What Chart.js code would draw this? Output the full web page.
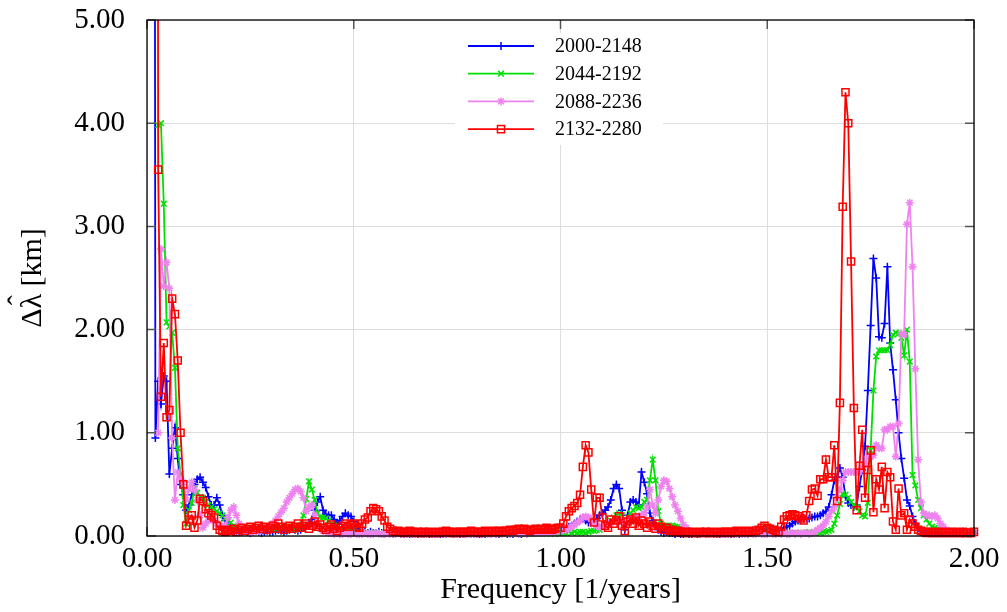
<!DOCTYPE html>
<html>
<head>
<meta charset="utf-8">
<script src="https://cdn.jsdelivr.net/npm/chart.js@4/dist/chart.umd.min.js"></script>
<style>
  html, body { margin: 0; padding: 0; background: #fff; }
  canvas { display: block; }
</style>
</head>
<body>
<canvas id="spec" width="1007" height="612"></canvas>
<script>
// one value per frequency bin, bin width 1/148 per year (first bins run off the top)
const seriesLabels = ['2000-2148', '2044-2192', '2088-2236', '2132-2280'];

const blue = [
  null, null, 30, 0.95, 1.5, 1.28, 1.55, 1.5, 0.6, 0.85,
  1.05, 0.75, 0.5, 0.4, 0.25, 0.3, 0.4, 0.5, 0.55, 0.57,
  0.52, 0.47, 0.38, 0.3, 0.3, 0.37, 0.3, 0.2, 0.15, 0.1,
  0.08, 0.06, 0.05, 0.04, 0.04, 0.05, 0.04, 0.03, 0.04, 0.05,
  0.04, 0.03, 0.04, 0.05, 0.04, 0.04, 0.05, 0.06, 0.05, 0.04,
  0.05, 0.06, 0.07, 0.06, 0.05, 0.06, 0.08, 0.1, 0.12, 0.16,
  0.25, 0.33, 0.38, 0.25, 0.21, 0.2, 0.2, 0.16, 0.12, 0.15,
  0.19, 0.22, 0.2, 0.19, 0.14, 0.09, 0.06, 0.05, 0.04, 0.03,
  0.04, 0.03, 0.03, 0.04, 0.03, 0.02, 0.03, 0.03, 0.02, 0.03,
  0.03, 0.02, 0.02, 0.03, 0.02, 0.02, 0.03, 0.02, 0.02, 0.02,
  0.03, 0.02, 0.02, 0.02, 0.03, 0.02, 0.02, 0.02, 0.03, 0.02,
  0.02, 0.03, 0.02, 0.02, 0.02, 0.03, 0.02, 0.02, 0.03, 0.02,
  0.02, 0.02, 0.03, 0.02, 0.03, 0.02, 0.02, 0.03, 0.03, 0.02,
  0.03, 0.02, 0.03, 0.03, 0.02, 0.03, 0.03, 0.04, 0.03, 0.03,
  0.04, 0.03, 0.04, 0.04, 0.05, 0.04, 0.04, 0.05, 0.05, 0.06,
  0.07, 0.09, 0.1, 0.12, 0.14, 0.16, 0.17, 0.15, 0.13, 0.14,
  0.15, 0.17, 0.2, 0.22, 0.25, 0.28, 0.35, 0.46, 0.5, 0.46,
  0.25, 0.06, 0.2, 0.33, 0.35, 0.33, 0.3, 0.62, 0.52, 0.41,
  0.22, 0.15, 0.1, 0.06, 0.04, 0.03, 0.04, 0.03, 0.03, 0.02,
  0.03, 0.02, 0.02, 0.03, 0.02, 0.02, 0.03, 0.02, 0.02, 0.03,
  0.02, 0.02, 0.03, 0.02, 0.02, 0.02, 0.03, 0.02, 0.03, 0.02,
  0.02, 0.03, 0.02, 0.03, 0.03, 0.02, 0.03, 0.03, 0.04, 0.03,
  0.03, 0.04, 0.04, 0.03, 0.04, 0.05, 0.05, 0.06, 0.08, 0.09,
  0.1, 0.12, 0.14, 0.15, 0.16, 0.17, 0.17, 0.17, 0.18, 0.19,
  0.19, 0.2, 0.22, 0.24, 0.28, 0.4, 0.54, 0.57, 0.66, 0.57,
  0.38, 0.32, 0.3, 0.28, 0.3, 0.48, 0.64, 0.87, 1.41, 2.04,
  2.69, 2.5, 1.93, 1.92, 2.06, 2.61, 1.87, 1.61, 1.32, 1.0,
  0.75, 0.56, 0.35, 0.29, 0.19, 0.12, 0.08, 0.05, 0.04, 0.03,
  0.04, 0.03, 0.03, 0.04, 0.03, 0.03, 0.04, 0.03, 0.03, 0.04,
  0.03, 0.03, 0.04, 0.03, 0.03, 0.03, 0.03
];

const green = [
  null, null, null, null, 3.98, 4.0, 3.22, 2.07, 2.03, 1.97,
  1.63, 0.85, 0.6, 0.3, 0.12, 0.25, 0.32, 0.46, 0.42, 0.38,
  0.37, 0.33, 0.3, 0.28, 0.26, 0.24, 0.22, 0.2, 0.17, 0.15,
  0.13, 0.1, 0.08, 0.07, 0.07, 0.06, 0.07, 0.08, 0.07, 0.06,
  0.07, 0.08, 0.09, 0.08, 0.07, 0.06, 0.07, 0.08, 0.09, 0.1,
  0.09, 0.08, 0.07, 0.06, 0.08, 0.1, 0.2, 0.36, 0.53, 0.45,
  0.35, 0.22, 0.18, 0.18, 0.17, 0.15, 0.12, 0.1, 0.08, 0.07,
  0.06, 0.05, 0.05, 0.04, 0.04, 0.03, 0.04, 0.03, 0.03, 0.02,
  0.03, 0.02, 0.03, 0.02, 0.02, 0.03, 0.02, 0.02, 0.02, 0.03,
  0.02, 0.02, 0.03, 0.02, 0.02, 0.02, 0.03, 0.02, 0.02, 0.02,
  0.02, 0.03, 0.02, 0.02, 0.02, 0.02, 0.03, 0.02, 0.02, 0.02,
  0.03, 0.02, 0.02, 0.02, 0.03, 0.02, 0.02, 0.02, 0.02, 0.03,
  0.02, 0.02, 0.02, 0.03, 0.02, 0.02, 0.02, 0.03, 0.02, 0.02,
  0.02, 0.03, 0.02, 0.02, 0.03, 0.02, 0.02, 0.03, 0.02, 0.03,
  0.02, 0.03, 0.03, 0.02, 0.03, 0.03, 0.02, 0.03, 0.03, 0.03,
  0.03, 0.04, 0.03, 0.04, 0.03, 0.04, 0.04, 0.03, 0.04, 0.05,
  0.05, 0.06, 0.06, 0.08, 0.1, 0.12, 0.15, 0.18, 0.2, 0.22,
  0.2, 0.15, 0.18, 0.22, 0.25, 0.28, 0.27, 0.28, 0.33, 0.35,
  0.54, 0.74, 0.54, 0.24, 0.12, 0.1, 0.1, 0.1, 0.1, 0.09,
  0.09, 0.08, 0.07, 0.05, 0.04, 0.02, 0.03, 0.02, 0.02, 0.03,
  0.02, 0.02, 0.03, 0.02, 0.02, 0.03, 0.02, 0.02, 0.02, 0.03,
  0.02, 0.02, 0.03, 0.02, 0.02, 0.02, 0.03, 0.02, 0.02, 0.03,
  0.02, 0.02, 0.02, 0.03, 0.02, 0.02, 0.03, 0.02, 0.03, 0.02,
  0.03, 0.02, 0.03, 0.03, 0.02, 0.03, 0.03, 0.04, 0.03, 0.03,
  0.04, 0.03, 0.04, 0.04, 0.05, 0.06, 0.12, 0.2, 0.31, 0.41,
  0.4, 0.37, 0.33, 0.3, 0.28, 0.24, 0.2, 0.19, 0.32, 0.83,
  1.41, 1.74, 1.8, 1.8, 1.8, 1.8, 1.85, 1.95, 1.97, 1.96,
  1.92, 1.75, 2.0, 1.69, 0.59, 0.49, 0.35, 0.27, 0.2, 0.16,
  0.12, 0.09, 0.08, 0.07, 0.06, 0.05, 0.05, 0.04, 0.04, 0.03,
  0.04, 0.03, 0.03, 0.04, 0.03, 0.03, 0.03
];

const violet = [
  null, null, null, null, 1.0, 2.78, 2.42, 2.65, 2.4, 0.95,
  0.35, 0.62, 0.55, 0.52, 0.35, 0.45, 0.52, 0.45, 0.35, 0.2,
  0.08, 0.12, 0.15, 0.18, 0.15, 0.12, 0.1, 0.08, 0.1, 0.18,
  0.25, 0.28, 0.2, 0.12, 0.08, 0.06, 0.05, 0.04, 0.04, 0.05,
  0.05, 0.06, 0.07, 0.08, 0.09, 0.12, 0.15, 0.19, 0.23, 0.27,
  0.33, 0.37, 0.41, 0.45, 0.46, 0.43, 0.37, 0.24, 0.28, 0.3,
  0.2, 0.12, 0.07, 0.05, 0.04, 0.03, 0.03, 0.02, 0.03, 0.02,
  0.02, 0.03, 0.02, 0.02, 0.03, 0.02, 0.02, 0.02, 0.03, 0.02,
  0.02, 0.02, 0.03, 0.02, 0.02, 0.02, 0.03, 0.02, 0.02, 0.02,
  0.03, 0.02, 0.02, 0.02, 0.03, 0.02, 0.02, 0.03, 0.02, 0.02,
  0.02, 0.03, 0.02, 0.02, 0.02, 0.03, 0.02, 0.02, 0.03, 0.02,
  0.02, 0.02, 0.03, 0.02, 0.02, 0.03, 0.02, 0.02, 0.02, 0.03,
  0.02, 0.03, 0.02, 0.02, 0.03, 0.02, 0.03, 0.02, 0.03, 0.03,
  0.02, 0.03, 0.03, 0.02, 0.03, 0.03, 0.02, 0.03, 0.03, 0.03,
  0.03, 0.03, 0.03, 0.04, 0.03, 0.04, 0.04, 0.04, 0.05, 0.05,
  0.06, 0.07, 0.09, 0.11, 0.13, 0.15, 0.18, 0.19, 0.18, 0.16,
  0.13, 0.1, 0.08, 0.09, 0.1, 0.12, 0.13, 0.14, 0.15, 0.15,
  0.14, 0.14, 0.15, 0.16, 0.17, 0.18, 0.19, 0.2, 0.22, 0.28,
  0.45, 0.3, 0.22, 0.35, 0.48, 0.54, 0.53, 0.46, 0.38, 0.3,
  0.24, 0.17, 0.11, 0.08, 0.05, 0.04, 0.03, 0.03, 0.02, 0.03,
  0.02, 0.02, 0.03, 0.02, 0.02, 0.03, 0.02, 0.02, 0.02, 0.03,
  0.02, 0.02, 0.03, 0.02, 0.02, 0.02, 0.03, 0.02, 0.02, 0.03,
  0.02, 0.02, 0.02, 0.03, 0.02, 0.02, 0.03, 0.02, 0.03, 0.02,
  0.02, 0.03, 0.02, 0.03, 0.02, 0.03, 0.03, 0.02, 0.03, 0.04,
  0.06, 0.08, 0.1, 0.14, 0.19, 0.24, 0.28, 0.37, 0.45, 0.54,
  0.62, 0.62, 0.62, 0.62, 0.62, 0.62, 0.66, 0.7, 0.77, 0.77,
  0.78, 0.88, 0.85, 0.85, 1.03, 1.03, 1.06, 1.06, 0.77, 1.09,
  1.96, 1.95, 3.02, 3.23, 2.61, 1.62, 0.74, 0.33, 0.22, 0.2,
  0.2, 0.19, 0.2, 0.17, 0.12, 0.09, 0.06, 0.05, 0.04, 0.03,
  0.03, 0.03, 0.02, 0.03, 0.03, 0.02, 0.03
];

const red = [
  null, null, null, 30, 3.55, 1.35, 1.87, 1.15, 1.22, 2.3,
  2.15, 1.7, 1.0, 0.5, 0.1, 0.16, 0.2, 0.08, 0.15, 0.36,
  0.34, 0.26, 0.22, 0.2, 0.18, 0.1, 0.06, 0.05, 0.04, 0.06,
  0.05, 0.07, 0.04, 0.06, 0.08, 0.05, 0.07, 0.09, 0.06, 0.08,
  0.1, 0.07, 0.09, 0.06, 0.08, 0.1, 0.07, 0.12, 0.09, 0.06,
  0.08, 0.1, 0.07, 0.09, 0.12, 0.08, 0.1, 0.12, 0.07, 0.1,
  0.14, 0.09, 0.11, 0.08, 0.06, 0.09, 0.11, 0.07, 0.05, 0.08,
  0.1, 0.12, 0.09, 0.11, 0.12, 0.09, 0.08, 0.12, 0.16, 0.18,
  0.24, 0.27, 0.26, 0.24, 0.19, 0.15, 0.09, 0.07, 0.05, 0.04,
  0.05, 0.04, 0.03, 0.04, 0.05, 0.04, 0.03, 0.04, 0.03, 0.04,
  0.03, 0.04, 0.03, 0.03, 0.04, 0.03, 0.04, 0.05, 0.04, 0.03,
  0.04, 0.03, 0.04, 0.04, 0.03, 0.04, 0.05, 0.04, 0.04, 0.03,
  0.04, 0.05, 0.04, 0.04, 0.05, 0.04, 0.05, 0.04, 0.05, 0.05,
  0.06, 0.05, 0.06, 0.07, 0.06, 0.07, 0.06, 0.05, 0.06, 0.07,
  0.06, 0.07, 0.06, 0.08, 0.07, 0.06, 0.07, 0.08, 0.08, 0.12,
  0.19, 0.24, 0.27, 0.29, 0.32, 0.4, 0.67, 0.88, 0.81, 0.45,
  0.13, 0.37, 0.37, 0.18, 0.1, 0.08, 0.16, 0.12, 0.15, 0.19,
  0.1, 0.05, 0.14, 0.16, 0.12, 0.18, 0.1, 0.15, 0.12, 0.08,
  0.14, 0.1, 0.07, 0.12, 0.09, 0.06, 0.08, 0.05, 0.06, 0.04,
  0.05, 0.04, 0.03, 0.04, 0.03, 0.04, 0.03, 0.03, 0.04, 0.03,
  0.04, 0.03, 0.04, 0.03, 0.03, 0.04, 0.03, 0.04, 0.04, 0.03,
  0.04, 0.05, 0.04, 0.04, 0.05, 0.04, 0.04, 0.05, 0.05, 0.06,
  0.08, 0.1, 0.08, 0.07, 0.06, 0.05, 0.04, 0.09, 0.16, 0.19,
  0.2, 0.21, 0.2, 0.19, 0.17, 0.15, 0.2, 0.34, 0.45, 0.46,
  0.39, 0.55, 0.55, 0.74, 0.57, 0.57, 0.88, 0.34, 1.29, 3.19,
  4.3, 4.0, 2.66, 1.24, 0.25, 0.68, 1.03, 0.37, 0.64, 0.83,
  0.23, 0.55, 0.45, 0.67, 0.27, 0.62, 0.57, 0.14, 0.06, 0.46,
  0.2, 0.22, 0.06, 0.16, 0.12, 0.09, 0.06, 0.05, 0.04, 0.03,
  0.04, 0.03, 0.03, 0.04, 0.03, 0.03, 0.04, 0.03, 0.03, 0.04,
  0.03, 0.03, 0.04, 0.03, 0.03, 0.03, 0.04
];

const binsPerYear = 148;
const freq = red.map((_, i) => i / binsPerYear);

const SERIF = '"Liberation Serif", "DejaVu Serif", serif';

function toPoints(vals) {
  return vals.map((v, i) => ({ x: freq[i], y: v }));
}

function makeSet(label, vals, color, style, radius, order) {
  return {
    label: label,
    data: toPoints(vals),
    borderColor: color,
    backgroundColor: color,
    borderWidth: 1.8,
    pointStyle: style,
    pointRadius: radius,
    pointBorderWidth: 1.5,
    pointBorderColor: color,
    pointBackgroundColor: style === 'rect' ? 'rgba(255,255,255,0)' : color,
    tension: 0,
    order: order,
    clip: { left: 6, right: 6, top: 0, bottom: 6 }
  };
}

// legend inside the plot, frame, inward ticks and the y title with its hat
const boxPlugin = {
  id: 'boxPlugin',
  afterDatasetsDraw(chart) {
    const { ctx, chartArea: a, scales } = chart;
    const xs = scales.x, ys = scales.y;
    ctx.save();

    // legend
    const lx = a.left + 308, ly = a.top + 13;
    ctx.fillStyle = '#fff';
    ctx.fillRect(lx, ly, 208, 112);
    chart.data.datasets.forEach((ds, i) => {
      const ry = a.top + 26 + i * 27.7;
      ctx.strokeStyle = ds.borderColor;
      ctx.lineWidth = ds.borderWidth;
      ctx.beginPath();
      ctx.moveTo(a.left + 321, ry);
      ctx.lineTo(a.left + 387, ry);
      ctx.stroke();
      ctx.fillStyle = ds.pointBackgroundColor;
      ctx.lineWidth = ds.pointBorderWidth;
      Chart.helpers.drawPoint(ctx, {
        pointStyle: ds.pointStyle, radius: ds.pointRadius, rotation: 0, borderWidth: ds.pointBorderWidth
      }, a.left + 354, ry);
      ctx.fillStyle = '#000';
      ctx.font = '20px ' + SERIF;
      ctx.textAlign = 'left';
      ctx.textBaseline = 'middle';
      ctx.fillText(ds.label, a.left + 408, ry + 1);
    });

    // inward ticks
    ctx.strokeStyle = '#555';
    ctx.lineWidth = 1.5;
    ys.ticks.forEach(t => {
      const py = ys.getPixelForValue(t.value);
      ctx.beginPath();
      ctx.moveTo(a.left, py); ctx.lineTo(a.left + 9, py);
      ctx.moveTo(a.right, py); ctx.lineTo(a.right - 9, py);
      ctx.stroke();
    });
    xs.ticks.forEach(t => {
      const px = xs.getPixelForValue(t.value);
      ctx.beginPath();
      ctx.moveTo(px, a.bottom); ctx.lineTo(px, a.bottom - 9);
      ctx.moveTo(px, a.top); ctx.lineTo(px, a.top + 9);
      ctx.stroke();
    });

    // frame
    ctx.strokeStyle = '#000';
    ctx.lineWidth = 1.3;
    ctx.strokeRect(a.left, a.top, a.right - a.left, a.bottom - a.top);

    // y title: "Δλ [km]" with a hat over the lambda
    const cy = (a.top + a.bottom) / 2;
    ctx.translate(33, cy);
    ctx.rotate(-Math.PI / 2);
    ctx.font = '30px ' + SERIF;
    ctx.fillStyle = '#000';
    ctx.textBaseline = 'middle';
    ctx.textAlign = 'left';
    const full = 'Δλ [km]';
    const w = ctx.measureText(full).width;
    const x0 = -w / 2;
    ctx.fillText(full, x0, 0);
    const dW = ctx.measureText('Δ').width;
    const lW = ctx.measureText('λ').width;
    ctx.textAlign = 'center';
    ctx.fillText('\u02C6', x0 + dW + lW / 2 + 1, -13);
    ctx.restore();
  }
};

new Chart(document.getElementById('spec').getContext('2d'), {
  type: 'line',
  data: {
    datasets: [
      makeSet(seriesLabels[0], blue, '#0000ff', 'cross', 4, 3),
      makeSet(seriesLabels[1], green, '#00e000', 'crossRot', 4, 2),
      makeSet(seriesLabels[2], violet, '#ee82ee', 'star', 4, 1),
      makeSet(seriesLabels[3], red, '#ff0000', 'rect', 5, 0)
    ]
  },
  options: {
    responsive: false,
    animation: false,
    devicePixelRatio: 1,
    layout: { padding: { top: 20, right: 33, left: 0, bottom: 0 } },
    plugins: {
      legend: { display: false },
      tooltip: { enabled: false }
    },
    scales: {
      x: {
        type: 'linear',
        min: 0,
        max: 2,
        ticks: {
          stepSize: 0.5,
          autoSkip: false,
          maxRotation: 0,
          padding: 6,
          color: '#000',
          font: { family: SERIF, size: 29 },
          callback: v => v.toFixed(2)
        },
        grid: { color: '#dddddd', lineWidth: 1, drawTicks: false },
        border: { display: false },
        title: {
          display: true,
          text: 'Frequency [1/years]',
          color: '#000',
          font: { family: SERIF, size: 30 },
          padding: { top: 0, bottom: 4 }
        },
        afterFit(scale) {
          scale.height = 76;
          scale.paddingLeft = 0;
          scale.paddingRight = 0;
        }
      },
      y: {
        min: 0,
        max: 5,
        ticks: {
          stepSize: 1,
          padding: 22,
          color: '#000',
          font: { family: SERIF, size: 29 },
          callback: v => v.toFixed(2)
        },
        grid: { color: '#dddddd', lineWidth: 1, drawTicks: false },
        border: { display: false },
        afterFit(scale) {
          scale.width = 147;
          scale.paddingTop = 0;
          scale.paddingBottom = 0;
        }
      }
    }
  },
  plugins: [boxPlugin]
});
</script>
</body>
</html>
